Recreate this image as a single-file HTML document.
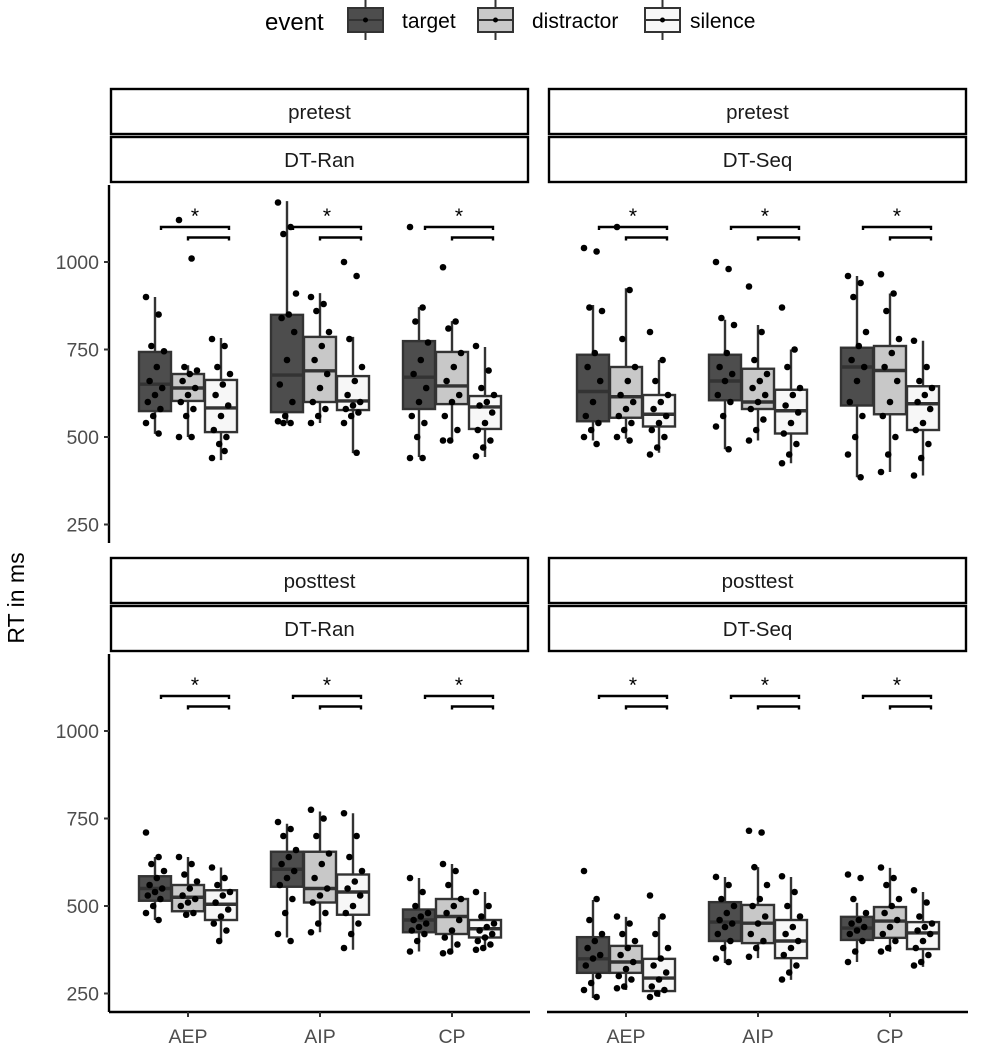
<!DOCTYPE html>
<html><head><meta charset="utf-8"><style>
html,body{margin:0;padding:0;background:#fff}
svg{display:block;font-family:"Liberation Sans",Arial,sans-serif}
</style></head><body>
<svg id="chart" width="990" height="1053" viewBox="0 0 990 1053"></svg>
<script>
const categories = ["AEP","AIP","CP"];
const events = ["target","distractor","silence"];
const panelSessions = ["pretest","pretest","posttest","posttest"];
const panelConditions = ["DT-Ran","DT-Seq","DT-Ran","DT-Seq"];
const yTicks = [250,500,750,1000];
// stats: [lowWhisker, q1, median, q3, highWhisker] ordered cat x event
const statsPreRan = [[509,574,651,743,900],[500,603,640,680,705],[434,514,583,663,783],
  [540,571,677,849,1174],[540,600,689,786,911],[454,577,603,674,786],
  [443,580,671,774,871],[486,594,646,743,831],[443,523,586,617,757]];
const statsPreSeq = [[490,545,630,735,877],[495,555,615,700,925],[455,530,565,620,720],
  [465,605,660,735,835],[490,580,600,695,820],[425,510,575,635,750],
  [385,590,700,755,960],[400,565,690,760,910],[390,520,595,645,775]];
const statsPostRan = [[460,515,550,585,640],[470,485,525,560,640],[400,460,505,545,610],
  [410,555,605,655,735],[425,510,550,655,770],[375,475,540,590,765],
  [370,425,460,490,580],[365,420,470,520,620],[375,410,435,460,540]];
const statsPostSeq = [[237,309,349,411,517],[260,309,340,386,469],[240,257,294,349,469],
  [337,400,454,511,583],[351,394,451,503,611],[289,351,400,460,583],
  [340,403,437,469,509],[369,409,457,497,609],[326,377,423,454,540]];
const pointsPreRan = [[900,850,760,745,700,660,640,620,600,580,560,540,510],[1120,1010,700,690,680,660,640,620,600,580,560,500,500],[780,760,700,680,650,620,590,560,520,500,480,440,460],
  [1170,1100,1080,910,850,840,800,720,650,600,560,545,540,540],[900,880,860,800,760,720,680,640,600,580,560,540],[1000,960,780,700,660,620,600,590,580,570,560,540,455],
  [1100,870,830,770,720,680,640,600,560,540,500,440,440],[985,830,810,740,700,660,620,600,560,520,490,490],[760,690,640,620,600,590,570,540,520,490,470,445]];
const pointsPreSeq = [[1040,1030,870,860,740,700,660,600,560,540,520,500,480],[1100,920,780,700,660,620,600,580,560,540,520,500,490],[800,720,660,620,600,580,560,540,520,500,470,450],
  [1000,980,840,820,740,700,680,660,620,600,560,530,465],[930,800,720,680,660,640,620,600,580,550,520,490],[870,750,700,640,620,590,570,540,510,480,450,425],
  [960,940,900,800,760,720,700,660,600,560,500,450,385],[965,910,860,780,740,700,660,600,560,500,450,400],[775,700,660,640,620,600,580,540,520,480,440,390]];
const pointsPostRan = [[710,640,620,600,580,560,550,540,530,520,500,480,460],[640,620,590,570,550,530,520,510,500,480,475],[610,580,560,540,530,510,490,470,450,430,400],
  [740,720,700,660,640,620,600,580,560,520,480,420,400],[775,750,700,650,620,580,550,530,510,480,450,425],[765,700,640,600,570,550,530,500,480,450,420,380],
  [580,540,500,480,470,460,450,440,430,420,400,370],[620,600,560,520,500,480,460,430,410,390,370,365],[540,500,470,450,440,430,420,410,400,390,380,375]];
const pointsPostSeq = [[600,520,460,420,400,380,360,350,330,300,280,260,240],[470,450,420,400,380,360,340,320,300,290,270,265],[530,470,420,380,350,330,310,290,270,260,250,240],
  [583,560,520,500,480,460,450,440,420,400,380,350,340],[715,710,611,560,520,500,470,450,420,400,380,355],[585,540,500,470,440,420,400,380,360,330,310,290],
  [590,580,520,480,460,450,440,430,420,400,370,340],[610,580,560,520,500,480,460,440,420,400,380,370],[545,510,470,450,440,430,420,400,380,360,340,330]];
const panelStats = [statsPreRan, statsPreSeq, statsPostRan, statsPostSeq];
const panelPoints = [pointsPreRan, pointsPreSeq, pointsPostRan, pointsPostSeq];

const fills = ["#4d4d4d","#c8c8c8","#f7f7f7"];
const NS = "http://www.w3.org/2000/svg";
const svg = document.getElementById("chart");
function mk(tag, attrs, parent, text){
  const e = document.createElementNS(NS, tag);
  for (const k in attrs) e.setAttribute(k, attrs[k]);
  if (text !== undefined) e.textContent = text;
  (parent || svg).appendChild(e);
  return e;
}
const layout = [
  {x0:109, top:89, y1000:262, plotBottom:543, xaxis:false, yaxis:true},
  {x0:547, top:89, y1000:262, plotBottom:543, xaxis:false, yaxis:false},
  {x0:109, top:558, y1000:731, plotBottom:1012, xaxis:true, yaxis:true},
  {x0:547, top:558, y1000:731, plotBottom:1012, xaxis:true, yaxis:false}
];

// legend
const lg = mk("g", {}, svg);


const lt = mk("text", {x:265, y:30, "font-size":24, fill:"#000"}, lg, "event");


const keyX = [348, 478, 645], labX = [402, 532, 690];
events.forEach((ev, i) => {
  const g = mk("g", {}, lg);
  
  
  const cx = keyX[i] + 17.5;
  mk("line", {x1:cx, x2:cx, y1:0, y2:40, stroke:"#333", "stroke-width":2}, g);
  mk("rect", {x:keyX[i], y:8, width:35, height:24, fill:fills[i], stroke:"#333", "stroke-width":2}, g);
  mk("line", {x1:keyX[i], x2:keyX[i]+35, y1:20, y2:20, stroke:"#333", "stroke-width":2}, g);
  mk("circle", {cx:cx, cy:20, r:2.5, fill:"#000"}, g);
  mk("text", {x:labX[i], y:28, "font-size":21, fill:"#000"}, g, ev);
});

// y title
const yt = mk("text", {x:0, y:0, "font-size":23, fill:"#000", "text-anchor":"middle", transform:"translate(24,598) rotate(-90)"}, svg, "RT in ms");



layout.forEach((L, p) => {
  const g = mk("g", {}, svg);
  
  
  const yv = v => L.y1000 + (1000 - v) * 0.35;
  const xc = c => L.x0 + 79 + c * 132;
  const s1 = mk("rect", {x:L.x0+2, y:L.top, width:417, height:45, fill:"#fff", stroke:"#000", "stroke-width":2.4}, g);
  
  
  mk("text", {x:L.x0+210.5, y:L.top+30, "font-size":20.5, "text-anchor":"middle", fill:"#1a1a1a"}, g, panelSessions[p]);
  const s2 = mk("rect", {x:L.x0+2, y:L.top+48, width:417, height:45, fill:"#fff", stroke:"#000", "stroke-width":2.4}, g);
  
  
  mk("text", {x:L.x0+210.5, y:L.top+78, "font-size":20.5, "text-anchor":"middle", fill:"#1a1a1a"}, g, panelConditions[p]);
  const plotTop = L.top + 96;
  if (L.yaxis) {
    const ya = mk("line", {x1:L.x0, x2:L.x0, y1:plotTop, y2:L.plotBottom, stroke:"#000", "stroke-width":2.4}, g);
    
    
    yTicks.forEach(t => {
      mk("line", {x1:L.x0-5, x2:L.x0, y1:yv(t), y2:yv(t), stroke:"#333", "stroke-width":2}, g);
      const tl = mk("text", {x:L.x0-10, y:yv(t)+7, "font-size":19.5, "text-anchor":"end", fill:"#4d4d4d"}, g, String(t));
      
      
    });
  }
  if (L.xaxis) {
    const xa = mk("line", {x1:L.x0, x2:L.x0+421, y1:L.plotBottom, y2:L.plotBottom, stroke:"#000", "stroke-width":2.4}, g);
    
    
    categories.forEach((c, ci) => {
      mk("line", {x1:xc(ci), x2:xc(ci), y1:L.plotBottom, y2:L.plotBottom+5, stroke:"#333", "stroke-width":2}, g);
      const tl = mk("text", {x:xc(ci), y:L.plotBottom+31, "font-size":19.5, "text-anchor":"middle", fill:"#4d4d4d"}, g, c);
      
      
    });
  }
  const st = panelStats[p], pts = panelPoints[p];
  categories.forEach((c, ci) => {
    events.forEach((ev, ei) => {
      const k = ci * 3 + ei;
      const s = st[k];
      const bx = xc(ci) + (ei - 1) * 33;
      const bg = mk("g", {}, g);
      
      
      mk("line", {x1:bx, x2:bx, y1:yv(s[4]), y2:yv(s[0]), stroke:"#333", "stroke-width":2.4}, bg);
      mk("rect", {x:bx-16, y:yv(s[3]), width:32, height:yv(s[1])-yv(s[3]), fill:fills[ei], stroke:"#333", "stroke-width":2.4}, bg);
      mk("line", {x1:bx-16, x2:bx+16, y1:yv(s[2]), y2:yv(s[2]), stroke:"#333", "stroke-width":3.4}, bg);
      pts[k].forEach((v, i) => {
        const jit = (((i * 7) % 11) - 5) / 5 * 9;
        const pt = mk("circle", {cx:bx + jit, cy:yv(v), r:3.3, fill:"#000"}, bg);
        
        
      });
    });
    const sg = mk("g", {stroke:"#000", "stroke-width":2.4, fill:"none"}, g);
    
    
    const b1 = yv(1100), b2 = yv(1070);
    mk("path", {d:`M${xc(ci)-27},${b1+3}V${b1}H${xc(ci)+41}V${b1+3}`}, sg);
    mk("path", {d:`M${xc(ci)},${b2+3}V${b2}H${xc(ci)+41}V${b2+3}`}, sg);
    const star = mk("text", {x:xc(ci)+7, y:yv(1100)-4, "font-size":21, "text-anchor":"middle", fill:"#000"}, g, "*");
    
    
  });
});
</script>
</body></html>
